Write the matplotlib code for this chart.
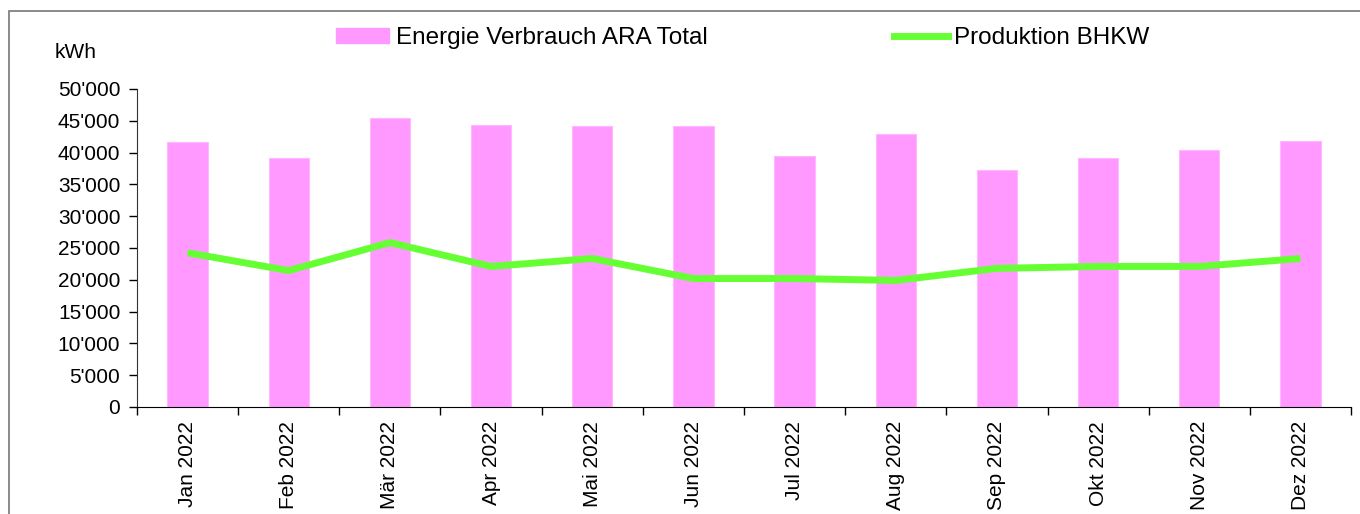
import matplotlib
matplotlib.use("Agg")
import matplotlib.pyplot as plt
from matplotlib.ticker import FuncFormatter, MultipleLocator, FixedLocator
from matplotlib.patches import Rectangle
from matplotlib.lines import Line2D

months = ["Jan 2022", "Feb 2022", "Mär 2022", "Apr 2022", "Mai 2022", "Jun 2022",
          "Jul 2022", "Aug 2022", "Sep 2022", "Okt 2022", "Nov 2022", "Dez 2022"]
verbrauch = [41600, 39100, 45400, 44400, 44150, 44150,
             39450, 42850, 37250, 39100, 40350, 41900]
produktion = [24250, 21450, 25850, 22100, 23350, 20200,
              20200, 19900, 21800, 22100, 22100, 23350]

plt.rcParams["font.family"] = ["Liberation Sans", "DejaVu Sans"]
plt.rcParams["font.size"] = 15

W, H = 1360, 514
fig = plt.figure(figsize=(W / 100, H / 100), dpi=100)
ax = fig.add_axes([137 / W, 1 - 407 / H, (1351 - 137) / W, (407 - 89) / H])

x = list(range(len(months)))
ax.bar(x, verbrauch, width=0.4, color="#FF99FF", edgecolor="#FFB8FF", linewidth=0.8,
       label="Energie Verbrauch ARA Total", zorder=2)
ax.plot(x, produktion, color="#66FF33", linewidth=5, solid_capstyle="butt",
        label="Produktion BHKW", zorder=3)

ax.set_xlim(-0.5, len(months) - 0.5)
ax.set_ylim(0, 50000)
ax.yaxis.set_major_locator(MultipleLocator(5000))
ax.yaxis.set_major_formatter(FuncFormatter(lambda v, p: f"{int(v):,}".replace(",", "'")))

ax.set_xticks(x)
ax.set_xticklabels(months, rotation=90)
ax.tick_params(axis="x", which="major", length=0, pad=10)
ax.xaxis.set_minor_locator(FixedLocator([i - 0.5 for i in range(len(months) + 1)]))
ax.tick_params(axis="x", which="minor", length=6, width=1, direction="out", color="black")
ax.tick_params(axis="y", length=6, width=1, direction="out", pad=6)

for s in ["top", "right"]:
    ax.spines[s].set_visible(False)
ax.spines["left"].set_color("#333333")
ax.spines["bottom"].set_color("black")

fig.text(55 / W, 1 - 52 / H, "kWh", ha="left", va="center", fontsize=15)

handles = [Rectangle((0, 0), 1, 1, color="#FF99FF"),
           Line2D([0], [0], color="#66FF33", linewidth=5)]
fig.legend(handles, ["Energie Verbrauch ARA Total", "Produktion BHKW"],
           loc="center left", bbox_to_anchor=(336 / W, 1 - 38 / H), ncol=2,
           frameon=False, fontsize=17.5, handlelength=2.2, handleheight=0.6,
           handletextpad=0.25, columnspacing=7.7, borderaxespad=0, borderpad=0)

fig.add_artist(Rectangle((9 / W, -0.1), 1.2, 1 - 11 / H + 0.1, transform=fig.transFigure,
                         fill=False, edgecolor="#777777", linewidth=1.2))

fig.savefig("out.png", dpi=100)
